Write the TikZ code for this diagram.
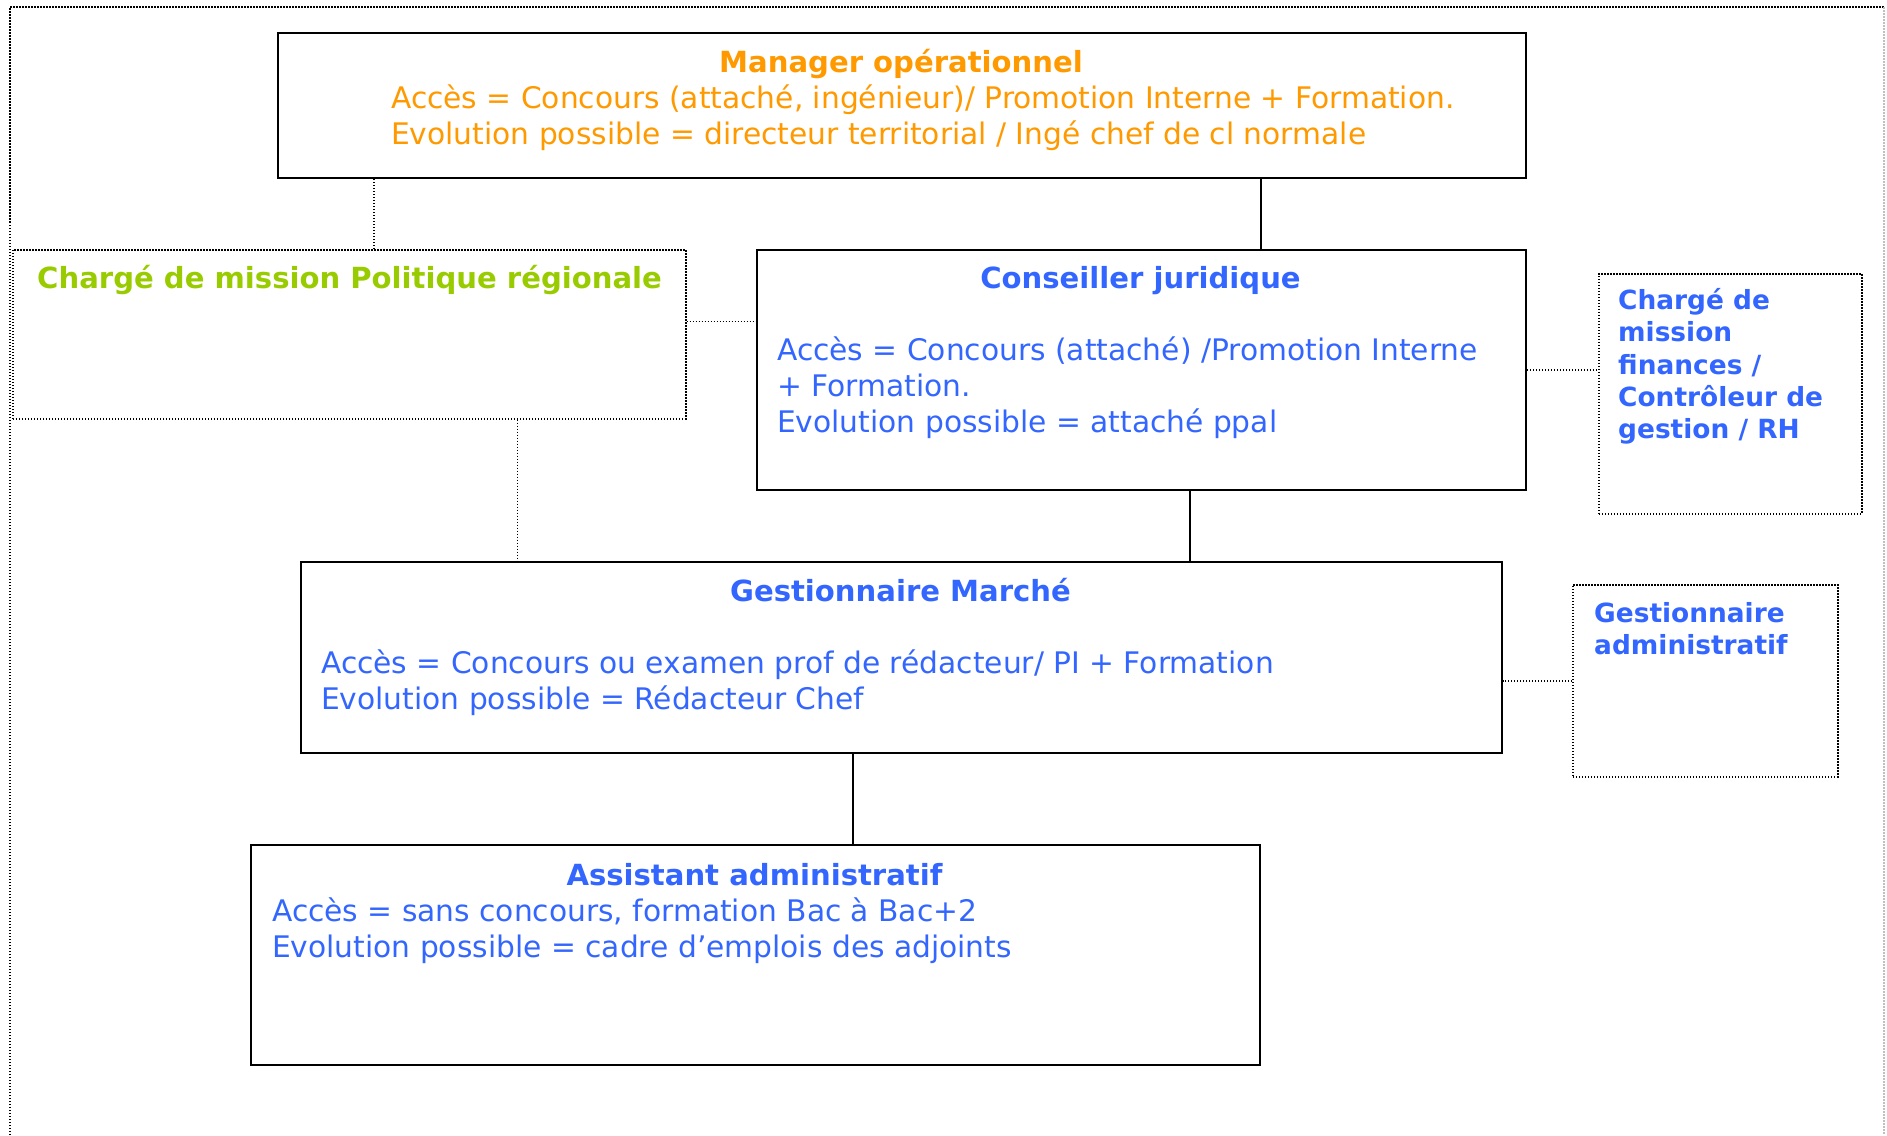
\documentclass[tikz,border=0pt]{standalone}
\usepackage{fontspec}
\setmainfont{DejaVu Sans}
\definecolor{orng}{HTML}{FF9900}
\definecolor{blu}{HTML}{3366FF}
\definecolor{grn}{HTML}{99CC00}
\begin{document}
\begin{tikzpicture}[x=1pt,y=-1pt,
  solidbox/.style={draw,line width=1.8pt,inner sep=0,anchor=north west},
  dotbox/.style={draw,line width=1.6pt,dash pattern=on 1.5pt off 1.5pt,inner sep=0,anchor=north west},
  solidline/.style={draw,line width=1.6pt},
  dotline/.style={draw,line width=1.6pt,dash pattern=on 1.5pt off 1.5pt},
  body/.style={anchor=base west,inner sep=0,font=\fontsize{29.7}{36}\selectfont},
  title/.style={anchor=base,inner sep=0,font=\fontsize{29.1}{36}\selectfont\bfseries},
  side/.style={anchor=base west,inner sep=0,font=\fontsize{26.4}{32}\selectfont\bfseries,text=blu}
]
\useasboundingbox (0,0) rectangle (1887,1135);
% outer frame
\draw[dotline,line width=1.3pt] (10,1135) -- (10,7) -- (1884,7);
\draw[dotline,line width=1.2pt,black!25] (1884,7) -- (1884,1135);

% boxes
\node[solidbox,minimum width=1248,minimum height=145] (mgr) at (277,32) {};
\node[dotbox,minimum width=673,minimum height=169] (pol) at (12,249) {};
\node[solidbox,minimum width=769,minimum height=240] (cons) at (756,249) {};
\node[dotbox,minimum width=263,minimum height=240] (fin) at (1598,273) {};
\node[solidbox,minimum width=1201,minimum height=191] (mar) at (300,561) {};
\node[dotbox,minimum width=265,minimum height=192] (gadm) at (1572,584) {};
\node[solidbox,minimum width=1009,minimum height=220] (asst) at (250,844) {};

% connectors
\draw[dotline] ([xshift=24.5pt]pol.north) -- ([xshift=24.5pt]pol.north |- mgr.south);
\draw[solidline] ([xshift=119.5pt]cons.north) -- ([xshift=119.5pt]cons.north |- mgr.south);
\draw[dotline] ([yshift=13pt]pol.east) -- ([yshift=13pt]pol.east -| cons.west);
\draw[dotline] (cons.east) -- (cons.east -| fin.west);
\draw[dotline] ([xshift=168pt]pol.south) -- ([xshift=168pt]pol.south |- mar.north);
\draw[solidline] ([xshift=48.5pt]cons.south) -- ([xshift=48.5pt]cons.south |- mar.north);
\draw[dotline] (gadm.west) -- (gadm.west -| mar.east);
\draw[solidline] ([xshift=-48.5pt]mar.south) -- ([xshift=-48.5pt]mar.south |- asst.north);

% texts: manager
\node[title,text=orng] (mgrT) at (901,72) {Manager opérationnel};
\node[body,text=orng] (mgr1) at (391,108) {Accès = Concours (attaché, ingénieur)/ Promotion Interne + Formation.};
\node[body,text=orng] (mgr2) at (391,144) {Evolution possible = directeur territorial / Ingé chef de cl normale};

% politique
\node[title,anchor=base west,text=grn] (polT) at (37,288) {Chargé de mission Politique régionale};

% conseiller
\node[title,text=blu] (consT) at (1140.5,288) {Conseiller juridique};
\node[body,text=blu] (cons1) at (777,360) {Accès = Concours (attaché) /Promotion Interne};
\node[body,text=blu] (cons2) at (777,396) {+ Formation.};
\node[body,text=blu] (cons3) at (777,432) {Evolution possible = attaché ppal};

% finances
\node[side] (fin1) at (1618,309) {Chargé de};
\node[side] (fin2) at (1618,341) {mission};
\node[side] (fin3) at (1618,374) {finances /};
\node[side] (fin4) at (1618,406) {Contrôleur de};
\node[side] (fin5) at (1618,438) {gestion / RH};

% marché
\node[title,text=blu] (marT) at (900.5,601) {Gestionnaire Marché};
\node[body,text=blu] (mar1) at (321,673) {Accès = Concours ou examen prof de rédacteur/ PI + Formation};
\node[body,text=blu] (mar2) at (321,709) {Evolution possible = Rédacteur Chef};

% gestionnaire administratif
\node[side] (gadm1) at (1594,622) {Gestionnaire};
\node[side] (gadm2) at (1594,654) {administratif};

% assistant
\node[title,text=blu] (asstT) at (754.5,885) {Assistant administratif};
\node[body,text=blu] (asst1) at (272,921) {Accès = sans concours, formation Bac à Bac+2};
\node[body,text=blu] (asst2) at (272,957) {Evolution possible = cadre d’emplois des adjoints};
\end{tikzpicture}
\end{document}
